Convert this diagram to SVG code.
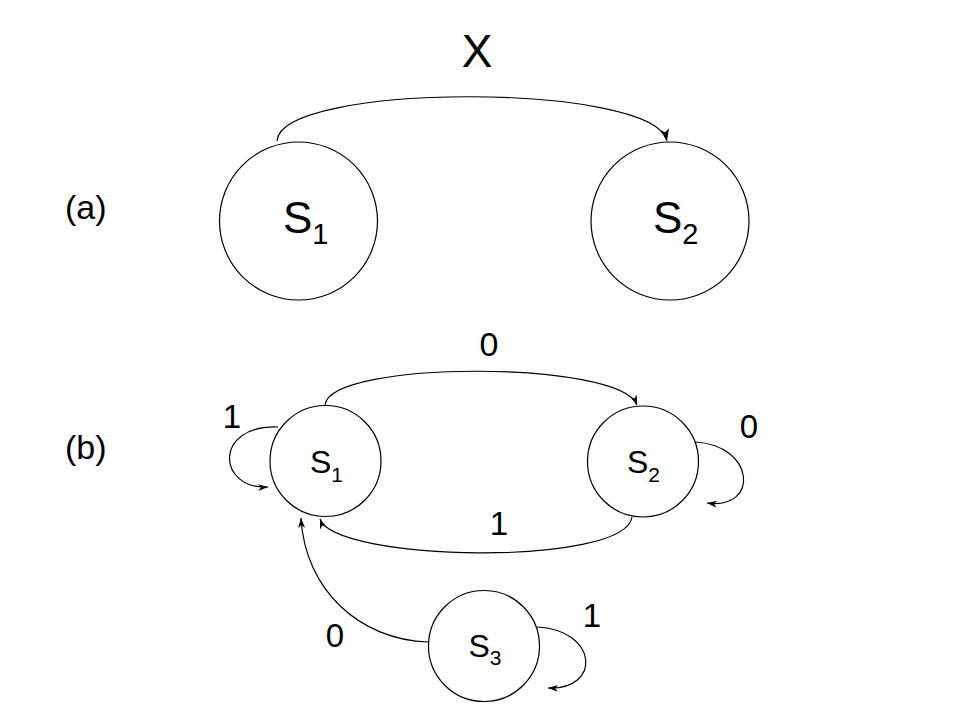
<svg xmlns="http://www.w3.org/2000/svg" width="960" height="720" viewBox="0 0 960 720">
<defs>
<style>
.st{fill:#fff;stroke:#000;stroke-width:1.2}
.ed{fill:none;stroke:#000;stroke-width:1.2}
.big{marker-end:url(#ah)}
.sm{marker-end:url(#as)}
text{font-family:"Liberation Sans",Arial,sans-serif;fill:#000}
</style>
<marker id="ah" markerUnits="userSpaceOnUse" markerWidth="14" markerHeight="10" refX="12" refY="4.5" orient="auto">
<path d="M0,0 L12,4.5 L0,9 L3,4.5 z" fill="#000"/>
</marker>
<marker id="as" markerUnits="userSpaceOnUse" markerWidth="12" markerHeight="9" refX="10" refY="3.5" orient="auto">
<path d="M0,0 L10,3.5 L0,7 L3,3.5 z" fill="#000"/>
</marker>
</defs>
<rect width="960" height="720" fill="#fff"/>
<g id="connectors">
<path class="ed big" d="M277,141 C280,82 655,82 667,141"/>
<path class="ed sm" d="M325,405 C330,360 620,360 637,405"/>
<path class="ed sm" d="M632,517 C625,567 335,562 320,519"/>
<path class="ed sm" d="M278,427 C212,425 218,490 268,487"/>
<path class="ed sm" d="M695,442 C755,445 760,510 707,503"/>
<path class="ed sm" d="M537,627 C598,630 602,690 548,688"/>
<path class="ed sm" d="M428,642 C360,640 305,590 301,518"/>
</g>
<g id="labels">
<text x="477" y="67" font-size="46" text-anchor="middle">X</text>
<text x="65" y="219" font-size="34">(a)</text>
<text x="65" y="459" font-size="34">(b)</text>
<text x="489" y="356" font-size="34" text-anchor="middle">0</text>
<text x="232" y="428" font-size="33" text-anchor="middle">1</text>
<text x="749" y="438" font-size="33" text-anchor="middle">0</text>
<text x="499" y="535" font-size="33" text-anchor="middle">1</text>
<text x="592" y="627" font-size="33" text-anchor="middle">1</text>
<text x="335" y="647" font-size="33" text-anchor="middle">0</text>
</g>
<g id="a_S1">
<circle class="st" cx="298.5" cy="221" r="79"/>
<text x="283" y="233" font-size="44">S<tspan font-size="29" dy="11">1</tspan></text>
</g>
<g id="a_S2">
<circle class="st" cx="670" cy="221" r="79"/>
<text x="653" y="233" font-size="44">S<tspan font-size="29" dy="11">2</tspan></text>
</g>
<g id="b_S1">
<circle class="st" cx="325.5" cy="461" r="55.5"/>
<text x="310" y="473" font-size="32">S<tspan font-size="21" dy="9">1</tspan></text>
</g>
<g id="b_S2">
<circle class="st" cx="643" cy="461.5" r="55.5"/>
<text x="627" y="473" font-size="32">S<tspan font-size="21" dy="9">2</tspan></text>
</g>
<g id="b_S3">
<circle class="st" cx="484" cy="646" r="55.5"/>
<text x="468.5" y="657" font-size="32">S<tspan font-size="21" dy="8">3</tspan></text>
</g>
</svg>
